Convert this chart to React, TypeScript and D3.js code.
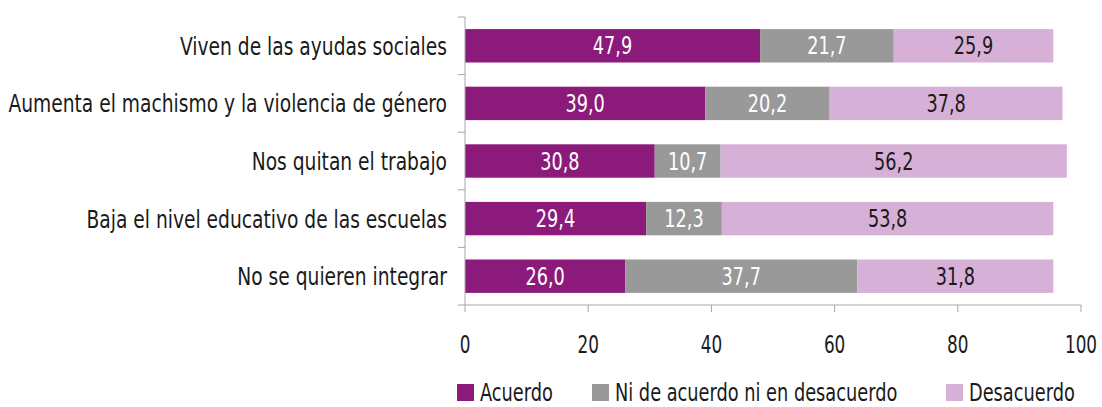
import React, { useEffect, useRef } from "react";
import * as d3 from "d3";

const categories = [
  "Viven de las ayudas sociales",
  "Aumenta el machismo y la violencia de género",
  "Nos quitan el trabajo",
  "Baja el nivel educativo de las escuelas",
  "No se quieren integrar",
];
const acuerdo = [47.9, 39.0, 30.8, 29.4, 26.0];
const neutral = [21.7, 20.2, 10.7, 12.3, 37.7];
const desacuerdo = [25.9, 37.8, 56.2, 53.8, 31.8];
const seriesNames = ["Acuerdo", "Ni de acuerdo ni en desacuerdo", "Desacuerdo"];
const xTicks = [0, 20, 40, 60, 80, 100];

const colors = ["#8b1a7b", "#999999", "#d7b0d7"];
const labelColors = ["#ffffff", "#ffffff", "#1a1a1a"];
const FONT = "'DejaVu Sans Condensed', 'DejaVu Sans', sans-serif";

export default function App() {
  const ref = useRef<SVGSVGElement>(null);

  useEffect(() => {
    const svg = d3.select(ref.current);
    svg.selectAll("*").remove();

    // condensed text: squeeze horizontally to mimic the narrow typeface
    const label = (x: number, y: number, s: string, size: number, sx: number, anchor: string, fill: string) =>
      svg.append("text")
        .attr("transform", `translate(${x},${y}) scale(${sx},1)`)
        .attr("text-anchor", anchor)
        .attr("fill", fill)
        .style("font-family", FONT).style("font-size", size + "px")
        .text(s);

    const x = d3.scaleLinear().domain([0, 100]).range([465, 1081]);
    const y = d3.scaleBand().domain(categories).range([17, 305]).paddingInner(0.42).paddingOuter(0.21);

    const rows = categories.map((c, i) => ({ c, vals: [acuerdo[i], neutral[i], desacuerdo[i]] }));

    // bars
    rows.forEach((r) => {
      let acc = 0;
      r.vals.forEach((v, k) => {
        const x0 = x(acc);
        const x1 = x(acc + v);
        svg.append("rect")
          .attr("x", x0).attr("y", y(r.c)!)
          .attr("width", x1 - x0).attr("height", y.bandwidth())
          .attr("fill", colors[k]);
        label((x0 + x1) / 2, y(r.c)! + y.bandwidth() / 2 + 8.5,
          d3.format(".1f")(v).replace(".", ","), 24, 0.82, "middle", labelColors[k]);
        acc += v;
      });
    });

    // y axis
    const axisColor = "#a6a6a6";
    svg.append("line").attr("x1", 465).attr("x2", 465).attr("y1", 17).attr("y2", 305)
      .attr("stroke", axisColor);
    const step = y.step();
    d3.range(categories.length + 1).forEach((i) => {
      const yy = 17 + i * step;
      svg.append("line").attr("x1", 458).attr("x2", 465).attr("y1", yy).attr("y2", yy)
        .attr("stroke", axisColor);
    });
    categories.forEach((c) => {
      label(447, y(c)! + y.bandwidth() / 2 + 9, c, 25, 0.83, "end", "#1a1a1a");
    });

    // x axis
    svg.append("line").attr("x1", 465).attr("x2", 1081).attr("y1", 305).attr("y2", 305)
      .attr("stroke", axisColor);
    xTicks.forEach((t) => {
      svg.append("line").attr("x1", x(t)).attr("x2", x(t)).attr("y1", 305).attr("y2", 312)
        .attr("stroke", axisColor);
      label(x(t), 353, String(t), 24, 0.78, "middle", "#1a1a1a");
    });

    // legend
    const legendX = [457, 592, 946];
    seriesNames.forEach((s, k) => {
      svg.append("rect").attr("x", legendX[k]).attr("y", 384).attr("width", 17).attr("height", 17)
        .attr("fill", colors[k]);
      label(legendX[k] + 23, 401, s, 25, 0.79, "start", "#1a1a1a");
    });
  }, []);

  return (
    <svg
      ref={ref}
      width={1102}
      height={407}
      style={{ position: "absolute", left: 0, top: 0, background: "#fff" }}
    />
  );
}
